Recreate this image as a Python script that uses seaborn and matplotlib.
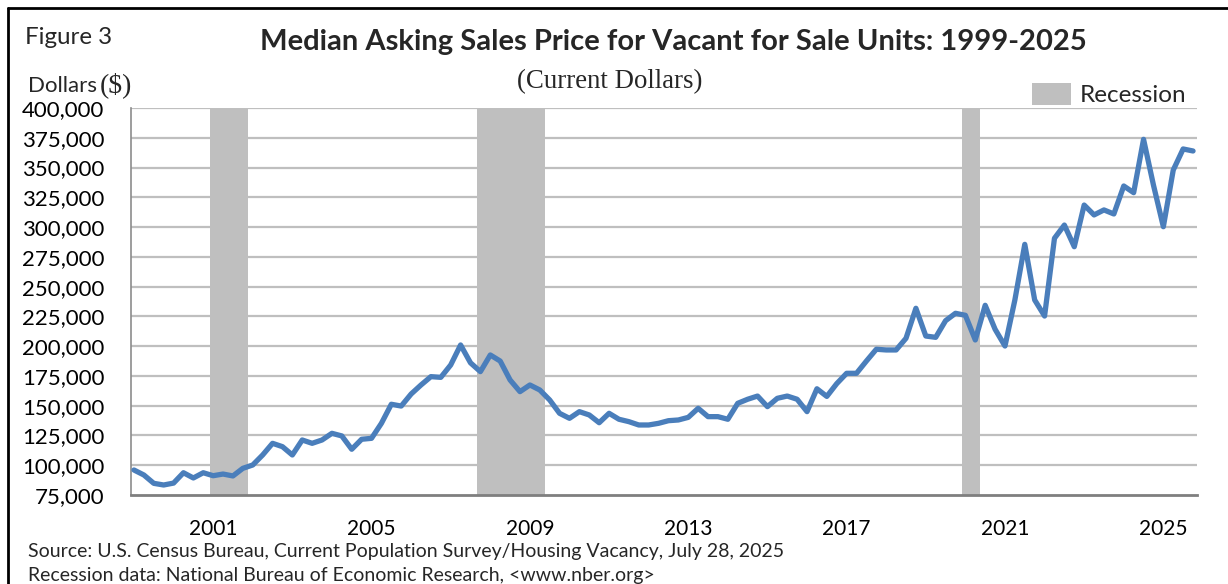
import numpy as np
import pandas as pd
import seaborn as sns
import matplotlib.pyplot as plt
from matplotlib.patches import Patch
from matplotlib.lines import Line2D

# quarterly median asking price, starting 1999Q1
prices = [
    96000, 91800, 84800, 83400, 85000, 93700, 89300, 93700,
    91200, 92600, 91000, 97400, 100200, 108600, 118400, 115600,
    108600, 121200, 118400, 121200, 126800, 124600, 113400, 121800,
    122600, 135200, 151200, 149700, 159800, 167400, 174400, 173800,
    184200, 201000, 186000, 178600, 192600, 187500, 171600, 161800,
    167400, 163200, 154800, 143600, 139400, 145000, 142200, 135700,
    143600, 138600, 136600, 133800, 133800, 135200, 137400, 138000,
    140200, 147800, 140800, 140800, 138600, 152000, 155400, 158100,
    149200, 156200, 158100, 155400, 145000, 164200, 157800, 168500,
    177200, 177200, 187500, 197400, 196800, 196800, 206600, 231800,
    208500, 207400, 221400, 227600, 225900, 205200, 234300, 214200,
    200100, 238800, 285500, 238800, 225300, 290600, 301700, 283500,
    318500, 310200, 314400, 311000, 334500, 328900, 373700, 335300,
    300300, 347900, 365600, 363900,
]
start_year = 1999
tick_years = [2001, 2005, 2009, 2013, 2017, 2021, 2025]
y_ticks = list(range(75000, 400001, 25000))

# recession quarters (first, last) as (year, quarter)
recessions = [((2001, 1), (2001, 4)), ((2007, 4), (2009, 2)), ((2020, 1), (2020, 2))]


def q_index(year, quarter):
    return (year - start_year) * 4 + (quarter - 1)


df = pd.DataFrame({"q": np.arange(len(prices)), "price": prices})

sns.set_theme(style="white")
plt.rcParams["font.family"] = ["Lato", "DejaVu Sans"]

fig = plt.figure(figsize=(12.28, 5.84), dpi=100)
ax = fig.add_axes([131 / 1228, 1 - 495 / 584, (1197 - 131) / 1228, (495 - 108) / 584])

# gridlines first, then recession bars over them, line on top
for v in y_ticks[1:]:
    ax.axhline(v, color="#BFBFBF", lw=1.6, zorder=1)

for (s, e) in recessions:
    ax.axvspan(q_index(*s) - 0.35, q_index(*e) + 0.5, color="#BFBFBF", lw=0, zorder=2)

sns.lineplot(data=df, x="q", y="price", color="#4A7EBB", lw=3.8, ax=ax, zorder=3)

ax.set_xlim(-0.3, 107.4)
ax.set_ylim(75000, 400000)
ax.set_yticks(y_ticks)
ax.set_yticklabels([f"{v:,}" for v in y_ticks], fontsize=16)
ax.set_xticks([q_index(y, 1) for y in tick_years])
ax.set_xticklabels([str(y) for y in tick_years], fontsize=15)
ax.tick_params(axis="both", length=0, colors="black")
ax.tick_params(axis="y", pad=19)
ax.tick_params(axis="x", pad=17)
ax.set_xlabel("")
ax.set_ylabel("")

for side in ["top", "right"]:
    ax.spines[side].set_visible(False)
ax.spines["left"].set_color("#8C8C8C")
ax.spines["left"].set_linewidth(1.2)
ax.spines["bottom"].set_color("#7F7F7F")
ax.spines["bottom"].set_linewidth(2)

ax.legend(handles=[Patch(facecolor="#BFBFBF", edgecolor="none", label="Recession")],
          loc="lower right", bbox_to_anchor=(0.99, 1.005), frameon=False,
          fontsize=17.5, handlelength=1.6, handleheight=1.0, handletextpad=0.35,
          borderpad=0, borderaxespad=0)

# text around the plot
fig.text(25 / 1228, 1 - 37 / 584, "Figure 3", fontsize=17.4, ha="left", va="center")
fig.text(673 / 1228, 1 - 42 / 584,
         "Median Asking Sales Price for Vacant for Sale Units: 1999-2025",
         fontsize=21, fontweight="bold", ha="center", va="center")
fig.text(610 / 1228, 1 - 82 / 584, "(Current Dollars)", fontsize=19.4,
         family="Liberation Serif", ha="center", va="center")
fig.text(28 / 1228, 1 - 86 / 584, "Dollars", fontsize=16, ha="left", va="center")
fig.text(100 / 1228, 1 - 85 / 584, "($)", fontsize=20, family="Liberation Serif",
         ha="left", va="center")
fig.text(28 / 1228, 1 - 551 / 584,
         "Source: U.S. Census Bureau, Current Population Survey/Housing Vacancy, July 28, 2025",
         fontsize=14, ha="left", va="center")
fig.text(28 / 1228, 1 - 576 / 584,
         "Recession data: National Bureau of Economic Research, <www.nber.org>",
         fontsize=14, ha="left", va="center")

# outer frame (left and top edges show)
fig.add_artist(Line2D([8 / 1228, 8 / 1228], [0, 1 - 8 / 584], color="black", lw=2))
fig.add_artist(Line2D([8 / 1228, 1], [1 - 8 / 584, 1 - 8 / 584], color="black", lw=2))

fig.savefig("out.png", dpi=100)
